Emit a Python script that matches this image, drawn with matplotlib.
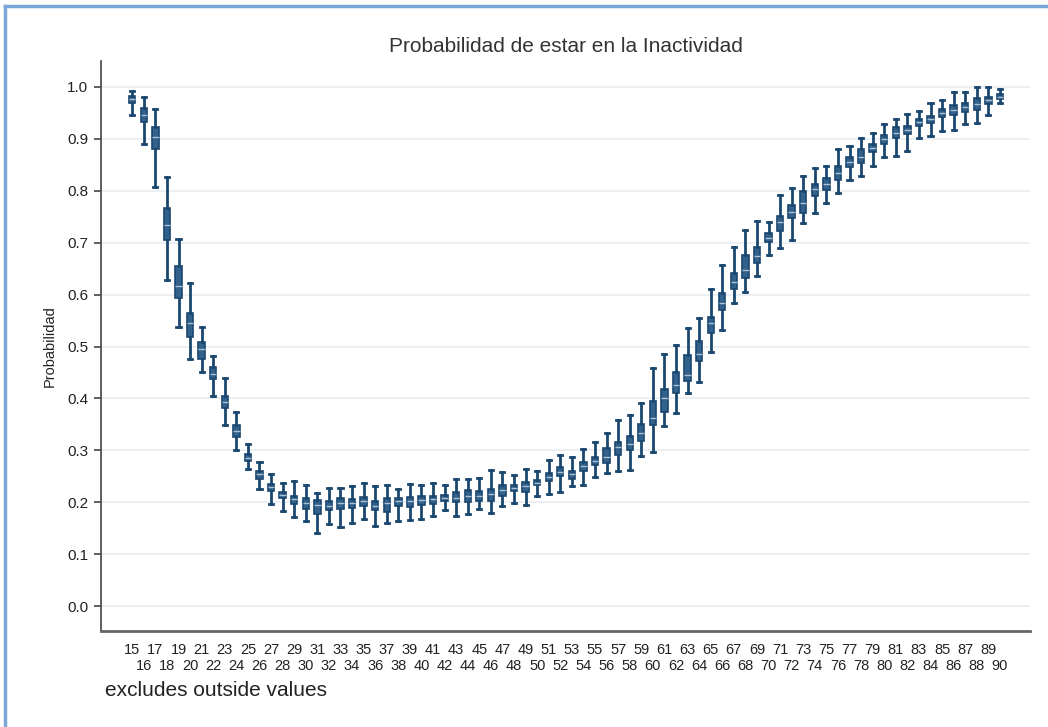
import matplotlib
matplotlib.use("Agg")
import matplotlib.pyplot as plt
from matplotlib.lines import Line2D

plt.rcParams['font.family'] = ['Liberation Sans', 'DejaVu Sans']

ages = list(range(15, 91))

# whisker low, q1, median, q3, whisker high
whis_lo = [0.946, 0.890, 0.808, 0.629, 0.538, 0.476, 0.450, 0.405, 0.349, 0.301,
           0.265, 0.225, 0.197, 0.184, 0.171, 0.164, 0.141, 0.158, 0.152, 0.161,
           0.167, 0.154, 0.161, 0.164, 0.166, 0.167, 0.174, 0.185, 0.174, 0.177,
           0.187, 0.179, 0.193, 0.198, 0.195, 0.213, 0.216, 0.220, 0.232, 0.234,
           0.249, 0.256, 0.261, 0.262, 0.290, 0.297, 0.347, 0.372, 0.410, 0.431,
           0.489, 0.532, 0.583, 0.605, 0.636, 0.676, 0.690, 0.706, 0.737, 0.758,
           0.777, 0.795, 0.821, 0.829, 0.848, 0.865, 0.867, 0.877, 0.901, 0.906,
           0.915, 0.917, 0.929, 0.931, 0.946, 0.970]
q1 = [0.969, 0.933, 0.880, 0.705, 0.593, 0.518, 0.475, 0.437, 0.382, 0.326,
      0.279, 0.245, 0.222, 0.208, 0.197, 0.187, 0.177, 0.185, 0.187, 0.189,
      0.193, 0.185, 0.182, 0.192, 0.190, 0.195, 0.196, 0.203, 0.200, 0.200,
      0.202, 0.203, 0.213, 0.222, 0.220, 0.233, 0.241, 0.250, 0.245, 0.261,
      0.272, 0.276, 0.291, 0.301, 0.318, 0.349, 0.373, 0.410, 0.434, 0.472,
      0.527, 0.570, 0.610, 0.632, 0.661, 0.702, 0.723, 0.747, 0.758, 0.790,
      0.802, 0.821, 0.845, 0.854, 0.874, 0.890, 0.901, 0.909, 0.924, 0.930,
      0.943, 0.946, 0.952, 0.956, 0.967, 0.977]
med = [0.976, 0.946, 0.904, 0.734, 0.617, 0.545, 0.495, 0.448, 0.393, 0.338,
       0.286, 0.254, 0.230, 0.214, 0.206, 0.198, 0.195, 0.193, 0.198, 0.199,
       0.203, 0.193, 0.198, 0.202, 0.202, 0.204, 0.206, 0.209, 0.209, 0.212,
       0.212, 0.215, 0.224, 0.228, 0.231, 0.238, 0.249, 0.259, 0.254, 0.270,
       0.280, 0.287, 0.306, 0.312, 0.334, 0.362, 0.400, 0.426, 0.445, 0.485,
       0.545, 0.583, 0.625, 0.648, 0.674, 0.710, 0.740, 0.760, 0.777, 0.803,
       0.814, 0.834, 0.856, 0.866, 0.882, 0.899, 0.911, 0.917, 0.932, 0.938,
       0.950, 0.956, 0.961, 0.967, 0.974, 0.981]
q3 = [0.983, 0.959, 0.922, 0.767, 0.655, 0.565, 0.508, 0.460, 0.405, 0.349,
      0.293, 0.260, 0.236, 0.219, 0.213, 0.209, 0.204, 0.202, 0.208, 0.206,
      0.211, 0.202, 0.209, 0.209, 0.211, 0.212, 0.212, 0.214, 0.220, 0.224,
      0.222, 0.225, 0.233, 0.234, 0.239, 0.243, 0.256, 0.267, 0.260, 0.278,
      0.288, 0.304, 0.316, 0.327, 0.350, 0.396, 0.419, 0.451, 0.484, 0.511,
      0.557, 0.604, 0.641, 0.676, 0.692, 0.718, 0.752, 0.772, 0.800, 0.813,
      0.824, 0.848, 0.865, 0.880, 0.890, 0.908, 0.922, 0.925, 0.938, 0.944,
      0.957, 0.965, 0.970, 0.978, 0.981, 0.986]
whis_hi = [0.993, 0.980, 0.957, 0.827, 0.707, 0.622, 0.538, 0.482, 0.439, 0.373,
           0.312, 0.278, 0.254, 0.238, 0.241, 0.234, 0.218, 0.227, 0.227, 0.232,
           0.238, 0.231, 0.234, 0.225, 0.235, 0.234, 0.238, 0.234, 0.245, 0.245,
           0.247, 0.263, 0.259, 0.252, 0.265, 0.261, 0.281, 0.291, 0.288, 0.302,
           0.317, 0.333, 0.358, 0.369, 0.392, 0.459, 0.486, 0.503, 0.536, 0.554,
           0.610, 0.657, 0.691, 0.724, 0.742, 0.740, 0.791, 0.805, 0.829, 0.843,
           0.848, 0.881, 0.887, 0.901, 0.911, 0.928, 0.938, 0.947, 0.954, 0.970,
           0.974, 0.991, 0.990, 1.000, 1.000, 0.996]

stats = []
for i in range(len(ages)):
    stats.append({'whislo': whis_lo[i], 'q1': q1[i], 'med': med[i],
                  'q3': q3[i], 'whishi': whis_hi[i], 'fliers': []})

navy = '#1a476f'

fig = plt.figure(figsize=(10.48, 7.27), dpi=100)
ax = fig.add_axes([101 / 1048, 1 - 631 / 727, 929 / 1048, 570 / 727])

ax.bxp(stats, positions=ages, widths=0.55, capwidths=0.35,
       patch_artist=True, showfliers=False, manage_ticks=False,
       boxprops=dict(facecolor='#32618c', edgecolor=navy, linewidth=1.2),
       medianprops=dict(color='#a9bfd3', linewidth=1.0),
       whiskerprops=dict(color=navy, linewidth=2.0),
       capprops=dict(color=navy, linewidth=2.0))

ax.set_xlim(12.3, 92.6)
ax.set_ylim(-0.048, 1.05)

yt = [i / 10 for i in range(11)]
ax.set_yticks(yt)
ax.set_yticklabels(['%.1f' % v for v in yt], fontsize=11, color='#222222')
ax.yaxis.grid(True, color='#e8eff2', linewidth=1.3)
ax.set_axisbelow(True)
ax.tick_params(axis='y', length=5, width=1.2, color='#444444', pad=4)

# odd ages on the first row, even ages on the second row
odd = [a for a in ages if a % 2 == 1]
even = [a for a in ages if a % 2 == 0]
ax.set_xticks(odd)
ax.set_xticklabels([str(a) for a in odd], fontsize=10.5, color='#222222')
ax.set_xticks(even, minor=True)
ax.set_xticklabels([str(a) for a in even], minor=True, fontsize=10.5, color='#222222')
ax.tick_params(axis='x', which='major', length=0, pad=9)
ax.tick_params(axis='x', which='minor', length=0, pad=20)

for s in ['top', 'right']:
    ax.spines[s].set_visible(False)
ax.spines['left'].set_color('#444444')
ax.spines['left'].set_linewidth(1.2)
ax.spines['bottom'].set_color('#666666')
ax.spines['bottom'].set_linewidth(2.0)

ax.set_ylabel('Probabilidad', fontsize=10.5, color='#222222', labelpad=8)
fig.text(566 / 1048, 1 - 47 / 727, 'Probabilidad de estar en la Inactividad',
         ha='center', va='center', fontsize=15, color='#333333')
fig.text(105 / 1048, 1 - 690 / 727, 'excludes outside values',
         ha='left', va='center', fontsize=15, color='#222222')

# screenshot frame (top and left edges)
fig.add_artist(Line2D([5 / 1048, 5 / 1048], [0, 1 - 6 / 727],
                      transform=fig.transFigure, color='#79a7d8', linewidth=2.5))
fig.add_artist(Line2D([5 / 1048, 1], [1 - 6 / 727, 1 - 6 / 727],
                      transform=fig.transFigure, color='#79a7d8', linewidth=2.5))

fig.savefig('out.png', dpi=100)
